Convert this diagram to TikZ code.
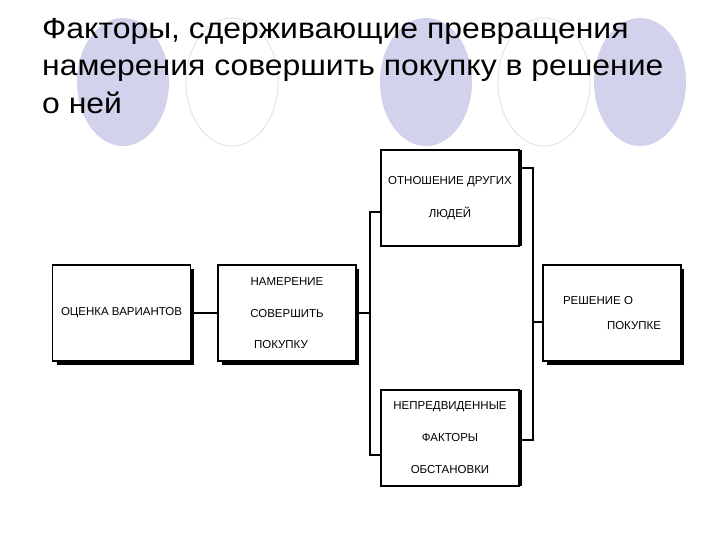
\documentclass[tikz,border=0pt]{standalone}
\usepackage{fontspec}
\setmainfont{Liberation Sans}
\definecolor{circ}{RGB}{210,210,236}
\begin{document}
\begin{tikzpicture}[x=1pt,y=-1pt,
  box/.style={draw,line width=1.6pt,fill=white,minimum width=138pt,minimum height=96pt,inner sep=0pt,font=\fontsize{11.5}{12}\selectfont},
  conn/.style={line width=1.5pt}]
\useasboundingbox (0,0) rectangle (720,540);
\fill[white] (0,0) rectangle (720,540);
\fill[circ] (123,82) ellipse (46 and 64);
\draw[gray!20,line width=1pt] (232,82) ellipse (46 and 64);
\fill[circ] (426,82) ellipse (46 and 64);
\draw[gray!20,line width=1pt] (544,82) ellipse (46 and 64);
\fill[circ] (640,82) ellipse (46 and 64);
\node[anchor=north west,align=left,font=\fontsize{29}{37.5}\selectfont,inner sep=0pt] (title) at (42,18)
 {\scalebox{1.1}[1]{Факторы, сдерживающие превращения}\\\scalebox{1.1}[1]{намерения совершить покупку в решение}\\\scalebox{1.1}[1]{о ней}};
\foreach \x/\y in {53/265,218/265,381/146,381/386,543/265}{
  \fill (\x+4,\y+4) rectangle (\x+141,\y+100);}
\node[box] (ov) at (121.5,313) {ОЦЕНКА ВАРИАНТОВ};
\node[box,align=center] (nam) at (287,313) {НАМЕРЕНИЕ\\[20pt]СОВЕРШИТЬ\\[19pt]\hspace*{-12pt}ПОКУПКУ};
\node[box,align=center] (otn) at (450,198) {ОТНОШЕНИЕ ДРУГИХ\\[20pt]ЛЮДЕЙ};
\node[box,align=center] (nep) at (450,438) {НЕПРЕДВИДЕННЫЕ\\[20pt]ФАКТОРЫ\\[20pt]ОБСТАНОВКИ};
\node[box,align=left] (res) at (612,313) {РЕШЕНИЕ О\\[13pt]\hspace*{44pt}ПОКУПКЕ};
\coordinate (l1) at (370,313);
\coordinate (r1) at (533,322);
\draw[conn] (ov.east) -- (nam.west);
\draw[conn] (nam.east) -- (l1);
\draw[conn] (381,212) -- (370,212) -- (370,455) -- (381,455);
\draw[conn] (519,168) -- (533,168) -- (533,440) -- (519,440);
\draw[conn] (r1) -- (res.west|-r1);
\end{tikzpicture}
\end{document}
